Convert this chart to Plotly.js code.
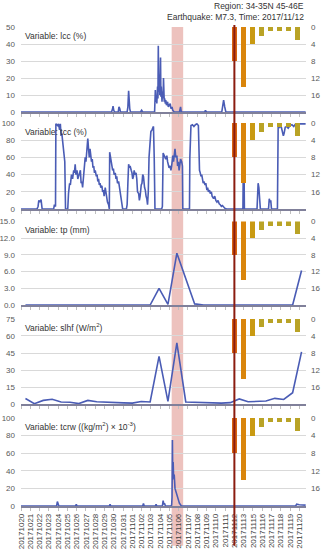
<!DOCTYPE html>
<html><head><meta charset="utf-8">
<script src="https://cdn.plot.ly/plotly-3.0.1.min.js"></script>
<style>html,body{margin:0;padding:0;background:#fff}#chart{width:322px;height:550px}</style>
</head><body><div id="chart"></div>
<script>
// ---------------- DATA ----------------
const startDate = '2017-10-20';
const tickLabels = ['20171020','20171021','20171022','20171023','20171024','20171025','20171026','20171027','20171028','20171029','20171030','20171031',
  '20171101','20171102','20171103','20171104','20171105','20171106','20171107','20171108','20171109','20171110','20171111','20171112',
  '20171113','20171115','20171116','20171117','20171118','20171119','20171120'];
const tickHourStep = 25;       // one label every 25 hourly samples
const quakeLabel = '20171112';
const anomalyStart = '2017-11-05T22:00:00Z';
const anomalyEnd = '2017-11-07T05:00:00Z';

const barDates = ['2017-11-13','2017-11-14','2017-11-15','2017-11-16','2017-11-17','2017-11-18','2017-11-19','2017-11-20'];
const barCounts = [8, 14, 4, 2, 1, 1, 1, 3];
const barColors = ['#d8640f','#d9850c','#c99a12','#b9a326','#b9a326','#b9a326','#b9a326','#b9a326'];

// hourly series (hours since start, value)
const lccHours = [0,244,247,248,250,252,262,264,266,268,286,288,290,291,293,295,322,325,328,
  360,362,363,365,366,368,369,370,371,373,374,376,377,378,380,381,383,384,386,387,389,390,392,395,397,399,402,404,407,409,413,
  427,430,432,495,497,500,541,544,546,549,552,767];
const lccValues = [0,0,2,3.5,1,0,0,3,2,0,0,3,12.5,8,2,0,0,1,0,
  0,13,6,10,5,15,8,39,12,22,10,32,9,15,6,12,8,20,6,8,5,7,4,6,3,4,5,2,3,1,0,
  0,3,0,0,1,0,0,4,7,3,0,0];

const tccHours = [0,43,46,48,51,54,57,88,90,93,94,99,101,104,106,108,110,112,114,116,118,120,126,128,131,133,136,139,142,144,146,148,151,153,155,158,160,162,164,166,169,171,173,175,178,180,182,184,186,188,190,192,194,196,198,200,203,205,207,209,211,213,215,218,220,222,224,227,229,231,233,236,238,239,241,243,245,247,249,251,254,256,258,260,263,265,267,269,272,274,284,286,288,290,292,294,297,299,301,303,305,307,310,312,314,317,319,321,324,326,328,330,333,335,337,339,341,343,345,348,350,353,355,357,359,361,379,381,383,385,388,390,393,395,397,399,402,404,406,409,411,413,415,417,420,422,424,426,428,430,433,435,436,454,455,456,458,462,466,470,474,478,479,481,483,485,487,489,491,493,496,498,501,503,505,508,510,513,515,519,522,525,528,531,534,537,540,543,546,549,554,598,600,602,636,638,639,641,643,645,667,669,671,673,675,691,693,697,700,704,707,709,712,716,720,725,730,735,740,745,750,755,760,767];
const tccValues = [0,0,3,10,8,11,0,0,5,3,99,97,99,92,99,85,88,80,75,62,55,0,0,18,30,28,40,35,45,42,52,40,45,35,38,42,45,30,32,25,40,48,60,55,78,82,70,60,70,62,55,58,48,50,42,45,38,40,32,35,28,30,25,27,20,22,15,25,18,15,8,5,0,66,60,55,52,45,47,40,42,35,38,30,32,25,22,12,5,0,0,5,30,52,48,50,45,42,35,38,45,40,42,35,20,18,10,15,28,30,40,38,25,22,15,12,5,20,60,75,90,92,95,96,60,0,0,3,65,62,60,58,62,55,52,48,50,45,50,62,55,68,70,60,62,50,55,45,52,58,55,50,0,0,60,95,97,98,96,98,99,97,70,45,42,38,40,35,30,32,28,30,22,25,20,22,18,20,15,12,15,10,8,10,6,5,3,4,2,1,0,0,98,0,0,20,30,25,5,0,0,12,8,10,0,0,97,95,98,92,85,88,95,96,94,97,98,96,99,98,99,99,99,99];

const tcrwHours = [0,96,98,100,102,147,149,151,238,240,242,328,330,332,362,364,366,381,383,385,387,389,404,406,407,408,409,410,411,413,415,417,419,421,423,425,427,429,432,740,743,750,760,767];
const tcrwValues = [0,0,5,1,0,0,2,0,0,2,0,0,3,0,0,2,0,0,6,2,3,0,0,1,10,75,30,50,36,35,20,17,12,10,6,5,3,2,0,0,2,1.5,1,1];

// daily series (one value per day, 2017-10-20 .. 2017-11-20)
const tpDaily = [0,0,0,0,0,0,0,0,0,0,0,0,0,0,0,3.0,0.1,9.3,4.6,0.2,0,0,0,0,0,0,0,0,0,0,0,6.2];
const slhfDaily = [4.9,0.3,3.2,4.2,1.8,1.5,0.4,3.2,2.0,1.5,1.2,1.0,0.8,2.2,1.8,42,2.3,54,1.8,1.5,1.2,1.0,0.8,1.2,4.5,2.0,2.0,2.6,5.0,4.0,10,46];

// ---------------- HELPERS ----------------
const t0 = Date.parse(startDate + 'T00:00:00Z');
const hoursOf = s => (Date.parse(s) - t0) / 3.6e6;
const dailyHours = arr => arr.map((_, i) => 24 * i + 12);
const tickVals = tickLabels.map((_, i) => i * tickHourStep);
const quakeX = tickVals[tickLabels.indexOf(quakeLabel)];
const barX = barDates.map(hoursOf);
const totalHours = 32 * 24;

const FONT = 'Liberation Sans, Arial, sans-serif';
const LINE = '#4a5cb5';

const panels = [
  {x: lccHours, y: lccValues, label: 'Variable: lcc (%)', range: [0, 50], dtick: 10, fmt: '', dom: [0.8225, 1]},
  {x: tccHours, y: tccValues, label: 'Variable: tcc (%)', range: [0, 100], dtick: 20, fmt: '', dom: [0.620, 0.7996]},
  {x: dailyHours(tpDaily), y: tpDaily, label: 'Variable: tp (mm)', range: [0, 15], dtick: 3, fmt: '.1f', dom: [0.4196, 0.594]},
  {x: dailyHours(slhfDaily), y: slhfDaily, label: 'Variable: slhf (W/m<sup>2</sup>)', range: [0, 75], dtick: 15, fmt: '', dom: [0.2129, 0.3904]},
  {x: tcrwHours, y: tcrwValues, label: 'Variable: tcrw ((kg/m<sup>2</sup>) × 10<sup>-3</sup>)', range: [0, 100], dtick: 20, fmt: '', dom: [0, 0.1837]}
];

const data = [];
const layout = {
  width: 322, height: 550,
  margin: {l: 21, r: 16, t: 27, b: 44},
  paper_bgcolor: '#ffffff', plot_bgcolor: 'rgba(0,0,0,0)',
  showlegend: false, hovermode: false,
  font: {family: FONT, size: 8, color: '#595959'},
  bargap: 0,
  shapes: [], annotations: []
};

panels.forEach((p, k) => {
  const n = k + 1;
  const xs = n === 1 ? '' : String(n);
  const ys = n === 1 ? '' : String(n);
  const yr = String(n + 5);
  data.push({type: 'scatter', mode: 'lines', x: p.x, y: p.y, xaxis: 'x' + xs, yaxis: 'y' + ys,
    line: {color: LINE, width: 1.6}});
  data.push({type: 'bar', x: barX, y: barCounts, base: 0, width: 14, xaxis: 'x' + xs, yaxis: 'y' + yr,
    marker: {color: barColors, line: {width: 0}}});
  layout['xaxis' + xs] = {
    domain: [0, 1], anchor: 'y' + ys, range: [0, totalHours],
    tickmode: 'array', tickvals: tickVals, ticktext: tickLabels,
    showticklabels: n === 5, tickangle: -90, tickfont: {size: 8, color: '#404040'},
    ticks: 'outside', ticklen: 3, tickcolor: '#bfbfbf',
    showline: true, linecolor: '#80809a', linewidth: 1.5,
    showgrid: false, zeroline: false, fixedrange: true
  };
  if (n > 1) layout['xaxis' + xs].matches = 'x';
  layout['yaxis' + ys] = {
    domain: p.dom, anchor: 'x' + xs, range: p.range, dtick: p.dtick, tick0: 0,
    tickformat: p.fmt, showgrid: true, gridcolor: '#d9d9d9', gridwidth: 1,
    zeroline: false, showline: false, ticks: '', ticklabelstandoff: 5,
    tickfont: {size: 8, color: '#595959'}, fixedrange: true
  };
  layout['yaxis' + yr] = {
    overlaying: 'y' + ys, side: 'right', anchor: 'x' + xs, range: [20, 0],
    tickmode: 'array', tickvals: [0, 4, 8, 12, 16], showgrid: false, zeroline: false,
    showline: false, ticks: '', ticklabelstandoff: 4,
    tickfont: {size: 8, color: '#595959'}, fixedrange: true
  };
  layout.annotations.push({
    text: p.label, xref: 'x' + xs + ' domain', yref: 'y' + ys + ' domain',
    x: 0.008, y: 0.9, xanchor: 'left', yanchor: 'middle', showarrow: false,
    font: {family: FONT, size: 8.5, color: '#333333'}
  });
});

layout.shapes.push({type: 'rect', layer: 'below', xref: 'x', yref: 'paper',
  x0: hoursOf(anomalyStart), x1: hoursOf(anomalyEnd), y0: -0.083, y1: 1,
  fillcolor: 'rgba(214,120,110,0.45)', line: {width: 0}});
layout.shapes.push({type: 'line', layer: 'above', xref: 'x', yref: 'paper',
  x0: quakeX, x1: quakeX, y0: -0.083, y1: 1.004,
  line: {color: '#8b1c10', width: 2}});

layout.annotations.push({text: 'Region: 34-35N 45-46E', xref: 'paper', yref: 'paper', x: 1, y: 1.0428,
  xanchor: 'right', yanchor: 'middle', showarrow: false, font: {family: FONT, size: 8.5, color: '#333333'}});
layout.annotations.push({text: 'Earthquake: M7.3, Time: 2017/11/12', xref: 'paper', yref: 'paper', x: 1, y: 1.0219,
  xanchor: 'right', yanchor: 'middle', showarrow: false, font: {family: FONT, size: 8.5, color: '#333333'}});

Plotly.newPlot('chart', data, layout, {displayModeBar: false, staticPlot: true});
</script>
</body></html>
